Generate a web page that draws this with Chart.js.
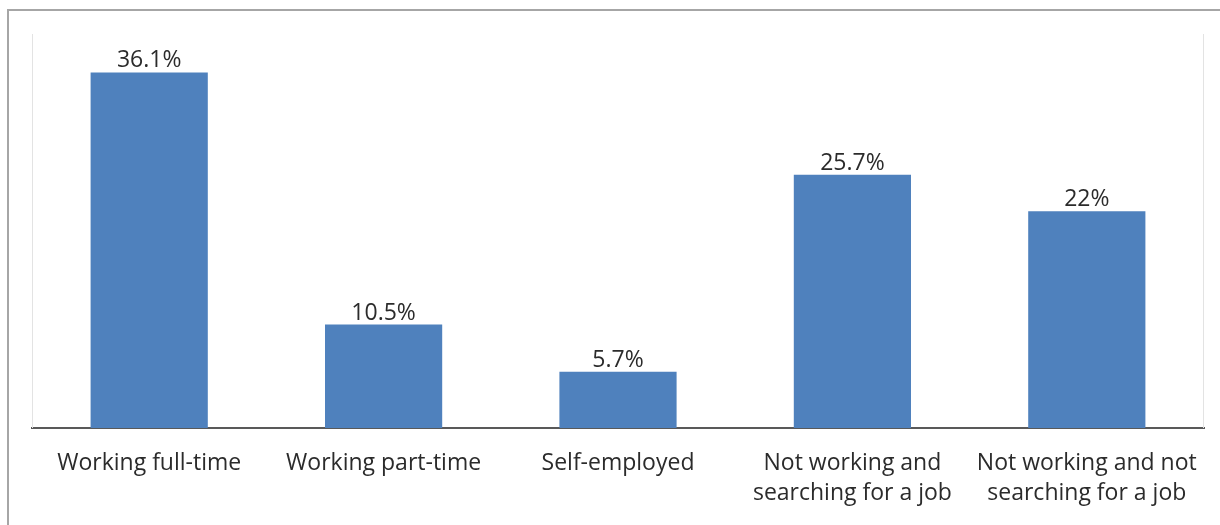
<!DOCTYPE html>
<html>
<head>
<meta charset="utf-8">
<script src="https://cdn.jsdelivr.net/npm/chart.js@4"></script>
<style>
  body { margin: 0; background: #fff; }
  .wrap { position: relative; width: 1220px; height: 525px; }
  .frame { position: absolute; left: 7px; top: 9px; right: -2px; bottom: -2px; border-top: 2px solid #a6a6a6; border-left: 2px solid #a6a6a6; }
  canvas { position: absolute; left: 0; top: 0; }
</style>
</head>
<body>
<div class="wrap">
  <div class="frame"></div>
  <canvas id="employmentChart" width="1220" height="525"></canvas>
</div>
<script>
// Data
const categories = [
  'Working full-time',
  'Working part-time',
  'Self-employed',
  ['Not working and', 'searching for a job'],
  ['Not working and not', 'searching for a job']
];
const shares = [36.1, 10.5, 5.7, 25.7, 22];

const FONT = '"Open Sans", sans-serif';

// value labels above bars + light plot-area sides
const extras = {
  id: 'extras',
  afterDatasetsDraw(chart) {
    const { ctx, chartArea } = chart;
    ctx.save();
    ctx.strokeStyle = '#e3e3e3';
    ctx.lineWidth = 1;
    ctx.beginPath();
    ctx.moveTo(chartArea.left + 0.5, chartArea.top);
    ctx.lineTo(chartArea.left + 0.5, chartArea.bottom);
    ctx.moveTo(chartArea.right - 0.5, chartArea.top);
    ctx.lineTo(chartArea.right - 0.5, chartArea.bottom);
    ctx.stroke();

    ctx.fillStyle = '#2b2b2b';
    ctx.font = '23px ' + FONT;
    ctx.textAlign = 'center';
    ctx.textBaseline = 'alphabetic';
    chart.getDatasetMeta(0).data.forEach((bar, i) => {
      ctx.fillText(shares[i] + '%', bar.x, bar.y - 5);
    });
    ctx.restore();
  }
};

const ctx = document.getElementById('employmentChart').getContext('2d');
const employmentChart = new Chart(ctx, {
  type: 'bar',
  data: {
    labels: categories,
    datasets: [{
      data: shares,
      backgroundColor: '#4f81bd',
      barPercentage: 0.5,
      categoryPercentage: 1
    }]
  },
  options: {
    responsive: false,
    animation: false,
    layout: { padding: { left: 32, right: 16, top: 34, bottom: 0 } },
    plugins: {
      legend: { display: false },
      tooltip: { enabled: false }
    },
    scales: {
      x: {
        grid: { display: false },
        border: { display: true, color: '#595959', width: 2 },
        ticks: {
          color: '#2b2b2b',
          font: { family: FONT, size: 23, lineHeight: 1.3 },
          padding: 13,
          maxRotation: 0,
          autoSkip: false
        },
        afterFit(scale) { scale.height = 97; }
      },
      y: {
        display: false,
        min: 0,
        max: 40
      }
    }
  },
  plugins: [extras]
});
</script>
</body>
</html>
